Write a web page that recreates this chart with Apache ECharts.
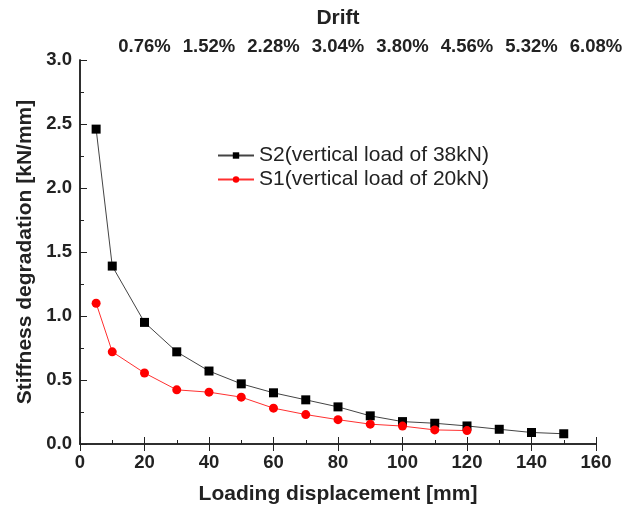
<head>
<meta charset="utf-8">
<script src="https://cdn.jsdelivr.net/npm/echarts@6/dist/echarts.min.js"></script>
<style>
    body { margin: 0; background: #fff; }
    #main { width: 629px; height: 506px; }
</style>
</head>
<body>
<div id="main"></div>
<script>
    // loading displacement [mm]
    var dispS2 = [5, 10, 20, 30, 40, 50, 60, 70, 80, 90, 100, 110, 120, 130, 140, 150];
    var stiffS2 = [2.46, 1.39, 0.95, 0.72, 0.57, 0.47, 0.40, 0.345, 0.29, 0.22, 0.175, 0.162, 0.141, 0.115, 0.09, 0.08];
    var dispS1 = [5, 10, 20, 30, 40, 50, 60, 70, 80, 90, 100, 110, 120];
    var stiffS1 = [1.10, 0.72, 0.555, 0.423, 0.405, 0.366, 0.28, 0.23, 0.19, 0.155, 0.14, 0.11, 0.105];
    // top axis labels (drift), one for each 20 mm from 20 to 160
    var driftLabels = ['0.76%', '1.52%', '2.28%', '3.04%', '3.80%', '4.56%', '5.32%', '6.08%'];

    var font = 'Liberation Sans, Arial, sans-serif';
    var axisColor = '#222';
    var tickFont = 18.5;
    var titleFont = 21;

    function pairs(xs, ys) {
        var out = [];
        for (var i = 0; i < xs.length; i++) out.push([xs[i], ys[i]]);
        return out;
    }

    var myChart = echarts.init(document.getElementById('main'));
    var option = {
        backgroundColor: '#fff',
        textStyle: { fontFamily: font },
        grid: { left: 80, right: 33, top: 60, bottom: 62, containLabel: false, outerBoundsMode: 'none' },
        legend: {
            orient: 'vertical',
            left: 212,
            top: 140,
            itemWidth: 36,
            itemHeight: 8,
            itemGap: 3,
            textStyle: { fontSize: 21, color: '#222', fontFamily: font },
            data: ['S2(vertical load of 38kN)', 'S1(vertical load of 20kN)']
        },
        xAxis: [{
            type: 'value',
            position: 'bottom',
            min: 0, max: 160, interval: 20,
            name: 'Loading displacement [mm]',
            nameLocation: 'middle',
            nameGap: 40,
            nameTextStyle: { fontSize: titleFont, fontWeight: 'bold', color: '#222' },
            axisLine: { lineStyle: { color: axisColor, width: 1.5 } },
            axisTick: { inside: true, length: 7, lineStyle: { color: axisColor } },
            minorTick: { show: true, splitNumber: 2, length: 4, lineStyle: { color: axisColor } },
            axisLabel: { fontSize: tickFont, fontWeight: 'bold', color: '#222', margin: 9 },
            splitLine: { show: false }
        }, {
            type: 'value',
            position: 'top',
            min: 0, max: 160, interval: 20,
            name: 'Drift',
            nameLocation: 'middle',
            nameGap: 31,
            nameTextStyle: { fontSize: titleFont, fontWeight: 'bold', color: '#222' },
            axisLine: { show: true, lineStyle: { color: axisColor, width: 1.5 } },
            axisTick: { inside: true, length: 7, lineStyle: { color: axisColor } },
            axisLabel: {
                fontSize: tickFont, fontWeight: 'bold', color: '#222', margin: 4,
                formatter: function (v) {
                    var i = Math.round(v / 20) - 1;
                    return i >= 0 ? driftLabels[i] : '';
                }
            },
            splitLine: { show: false }
        }],
        yAxis: [{
            type: 'value',
            position: 'left',
            min: 0, max: 3, interval: 0.5,
            name: 'Stiffness degradation [kN/mm]',
            nameLocation: 'middle',
            nameGap: 44,
            nameTextStyle: { fontSize: titleFont, fontWeight: 'bold', color: '#222' },
            axisLine: { show: true, lineStyle: { color: axisColor, width: 1.5 } },
            axisTick: { show: true, inside: true, length: 7, lineStyle: { color: axisColor } },
            minorTick: { show: true, splitNumber: 2, length: 4, lineStyle: { color: axisColor } },
            axisLabel: {
                fontSize: tickFont, fontWeight: 'bold', color: '#222', margin: 8,
                formatter: function (v) { return v.toFixed(1); }
            },
            splitLine: { show: false }
        }, {
            type: 'value',
            position: 'right',
            min: 0, max: 3, interval: 0.5,
            axisLine: { show: true, lineStyle: { color: axisColor, width: 1.5 } },
            axisTick: { show: false },
            axisLabel: { show: false },
            splitLine: { show: false }
        }],
        series: [{
            name: 'S2(vertical load of 38kN)',
            type: 'line',
            data: pairs(dispS2, stiffS2),
            symbol: 'rect',
            symbolSize: 9,
            itemStyle: { color: '#000' },
            lineStyle: { color: '#444', width: 1 },
            emphasis: { disabled: true },
            animation: false
        }, {
            name: 'S1(vertical load of 20kN)',
            type: 'line',
            data: pairs(dispS1, stiffS1),
            symbol: 'circle',
            symbolSize: 9,
            itemStyle: { color: '#ff0000' },
            lineStyle: { color: '#ff3030', width: 1 },
            emphasis: { disabled: true },
            animation: false
        }]
    };
    myChart.setOption(option);
</script>
</body>
